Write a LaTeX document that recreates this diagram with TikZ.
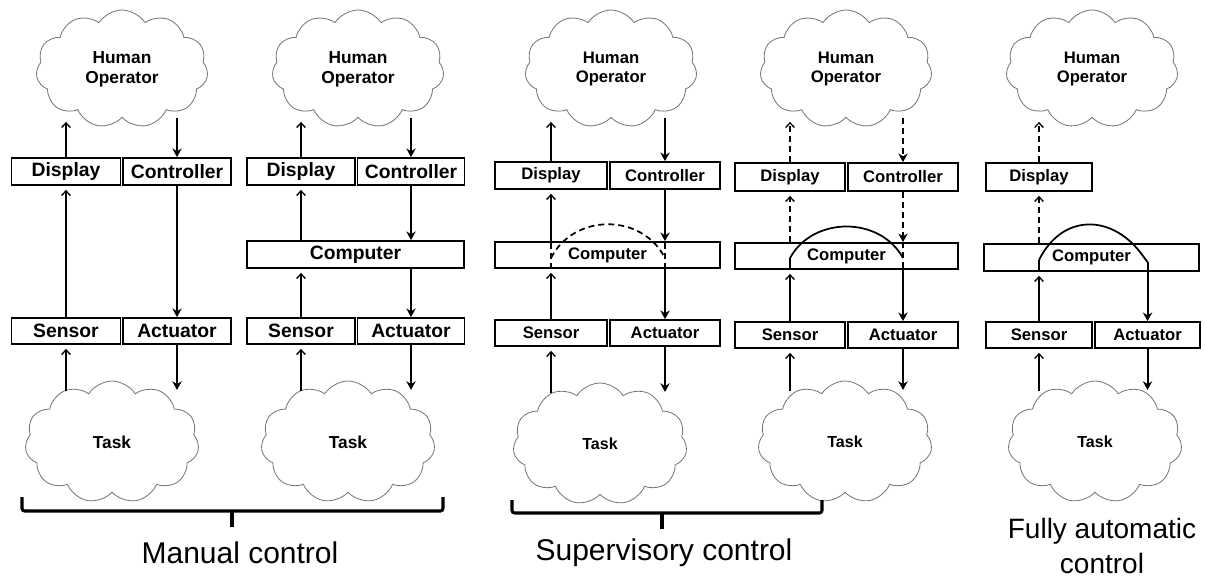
\documentclass[tikz,border=0pt]{standalone}
\usepackage{fontspec}
\setmainfont{Liberation Sans}
\usetikzlibrary{shapes.symbols,arrows.meta}

\begin{document}
\begin{tikzpicture}[x=0.75pt,y=-0.75pt,
  bw/.style={minimum width=#1*0.75pt},
  bh/.style={minimum height=#1*0.75pt},
  box/.style={draw, line width=1.3pt, inner sep=0pt, bh=27,
    font=\bfseries\fontsize{14.5}{16}\selectfont},
  sbox/.style={box, font=\bfseries\fontsize{12.5}{14}\selectfont},
  hcloud/.style={cloud, cloud puffs=11, cloud puff arc=115, aspect=1.5,
    draw=black!55, line width=0.6pt, inner sep=0pt, align=center,
    minimum width=172*0.75pt, minimum height=118*0.75pt,
    font=\bfseries\fontsize{13}{15}\selectfont},
  shcloud/.style={hcloud, font=\bfseries\fontsize{12.5}{14.5}\selectfont},
  tcloud/.style={hcloud, minimum width=174*0.75pt, minimum height=122*0.75pt},
  stcloud/.style={tcloud, font=\bfseries\fontsize{12}{14}\selectfont},
  upar/.style={line width=1pt, -{Straight Barb[length=3.5pt,width=6.5pt,line width=1pt]}, shorten >=3pt},
  dnar/.style={line width=1.5pt, -{Stealth[length=6.5pt,width=7pt]}},
  fromtask/.style={upar, shorten <=-8pt},
  totask/.style={dnar, shorten >=-7pt},
  dsh/.style={dash pattern=on 4.5pt off 3pt},
  inner/.style={line width=1pt, dsh},
  brace/.style={line width=2.3pt, rounded corners=2pt},
  lbl/.style={font=\fontsize{22.5}{27}\selectfont, align=center, inner sep=0pt}
]
\fill[white] (0,0) rectangle (1205,579);
\useasboundingbox (0,0) rectangle (1205,579);

% ---------- Manual control, direct ----------
\node[hcloud] (h1) at (122,69) {Human\\Operator};
\node[box,bw=109] (d1) at (66,171.5) {Display};
\node[box,bw=108] (c1) at (177,171.5) {Controller};
\node[box,bw=109,bh=26] (s1) at (66,331) {Sensor};
\node[box,bw=108,bh=26] (a1) at (177,331) {Actuator};
\node[tcloud] (t1) at (112,442) {Task};
\draw[upar] (d1.north) -- (d1.north |- h1.south);
\draw[dnar] (c1.north |- h1.south) -- (c1.north);
\draw[upar] (s1.north) -- (d1.south);
\draw[dnar] (c1.south) -- (a1.north);
\draw[fromtask] (s1.south |- t1.north) -- (s1.south);
\draw[totask] (a1.south) -- (a1.south |- t1.north);

% ---------- Manual control, through a computer ----------
\node[hcloud] (h2) at (358,69) {Human\\Operator};
\node[box,bw=108] (d2) at (301,171.5) {Display};
\node[box,bw=107] (c2) at (411,171.5) {Controller};
\node[box,bw=217,bh=27] (k2) at (355.5,254.5) {Computer};
\node[box,bw=108,bh=26] (s2) at (301,331) {Sensor};
\node[box,bw=107,bh=26] (a2) at (411,331) {Actuator};
\node[tcloud] (t2) at (348,442) {Task};
\draw[upar] (d2.north) -- (d2.north |- h2.south);
\draw[dnar] (c2.north |- h2.south) -- (c2.north);
\draw[upar] (d2.south |- k2.north) -- (d2.south);
\draw[dnar] (c2.south) -- (c2.south |- k2.north);
\draw[upar] (s2.north) -- (s2.north |- k2.south);
\draw[dnar] (a2.north |- k2.south) -- (a2.north);
\draw[fromtask] (s2.south |- t2.north) -- (s2.south);
\draw[totask] (a2.south) -- (a2.south |- t2.north);

% ---------- Supervisory control, operator in the loop ----------
\node[shcloud] (h3) at (611,69) {Human\\Operator};
\node[sbox,bw=112] (d3) at (551,175.5) {Display};
\node[sbox,bw=110] (c3) at (665,175.5) {Controller};
\node[sbox,bw=225,bh=26] (k3) at (607.5,255) {Computer};
\node[sbox,bw=112,bh=26] (s3) at (551,333) {Sensor};
\node[sbox,bw=110,bh=26] (a3) at (665,333) {Actuator};
\node[stcloud] (t3) at (600,444) {Task};
\coordinate (l3) at (551,258);
\coordinate (r3) at (665,258);
\draw[upar] (d3.north) -- (d3.north |- h3.south);
\draw[dnar] (c3.north |- h3.south) -- (c3.north);
\draw[upar] (d3.south |- k3.north) -- (d3.south);
\draw[dnar] (c3.south) -- (c3.south |- k3.north);
\draw[upar] (s3.north) -- (s3.north |- k3.south);
\draw[dnar] (a3.north |- k3.south) -- (a3.north);
\draw[inner] (s3.north |- k3.south) -- (s3.north |- k3.north);
\draw[inner] (a3.north |- k3.south) -- (a3.north |- k3.north);
\draw[line width=1.3pt, dsh] (l3) .. controls (574,213) and (642,213) .. (r3);
\draw[fromtask] (s3.south |- t3.north) -- (s3.south);
\draw[totask] (a3.south) -- (a3.south |- t3.north);

% ---------- Supervisory control, computer closes the loop ----------
\node[shcloud] (h4) at (846,69) {Human\\Operator};
\node[sbox,bw=110,bh=28] (d4) at (790,177) {Display};
\node[sbox,bw=110,bh=28] (c4) at (903,177) {Controller};
\node[sbox,bw=223,bh=26] (k4) at (846.5,256) {Computer};
\node[sbox,bw=110,bh=26] (s4) at (790,335) {Sensor};
\node[sbox,bw=110,bh=26] (a4) at (903,335) {Actuator};
\node[stcloud] (t4) at (845,442) {Task};
\coordinate (l4) at (790,258);
\coordinate (r4) at (903,258);
\draw[upar, dsh] (d4.north) -- (d4.north |- h4.south);
\draw[dnar, dsh] (c4.north |- h4.south) -- (c4.north);
\draw[upar, dsh] (d4.south |- k4.north) -- (d4.south);
\draw[dnar, dsh] (c4.south) -- (c4.south |- k4.north);
\draw[upar] (s4.north) -- (s4.north |- k4.south);
\draw[line width=1pt] (s4.north |- k4.south) -- (l4);
\draw[inner] (a4.north |- k4.north) -- (a4.north |- k4.south);
\draw[dnar] (a4.north |- k4.south) -- (a4.north);
\draw[line width=1.3pt] (l4) .. controls (813,216) and (880,216) .. (r4);
\draw[fromtask] (s4.south |- t4.north) -- (s4.south);
\draw[totask] (a4.south) -- (a4.south |- t4.north);

% ---------- Fully automatic control ----------
\node[shcloud] (h5) at (1092,69) {Human\\Operator};
\node[sbox,bw=106,bh=28] (d5) at (1039,177) {Display};
\node[sbox,bw=215,bh=27] (k5) at (1091.5,257.5) {Computer};
\node[sbox,bw=106,bh=26] (s5) at (1039,335) {Sensor};
\node[sbox,bw=105,bh=26] (a5) at (1147.5,335) {Actuator};
\node[stcloud] (t5) at (1095,442) {Task};
\coordinate (l5) at (1039,260);
\coordinate (r5) at (1147.5,262);
\draw[upar, dsh] (d5.north) -- (d5.north |- h5.south);
\draw[upar, dsh] (d5.south |- k5.north) -- (d5.south);
\draw[upar] (s5.north) -- (s5.north |- k5.south);
\draw[line width=1pt] (s5.north |- k5.south) -- (l5);
\draw[line width=1.3pt] (l5) .. controls (1062,214) and (1110,214) .. (1140,252) -- (r5);
\draw[dnar] (r5) -- (a5.north);
\draw[fromtask] (s5.south |- t5.north) -- (s5.south);
\draw[totask] (a5.south) -- (a5.south |- t5.north);

% ---------- Group brackets and captions ----------
\draw[brace] (22,497) |- (443,511) -- (443,497);
\draw[brace] (232,511) -- (232,527);
\draw[brace] (512,500) |- (822,513) -- (822,500);
\draw[brace] (662,513) -- (662,529);
\node[lbl] (cap1) at (240,553) {Manual control};
\node[lbl] (cap2) at (664,553) {Supervisory control};
\node[lbl, font=\fontsize{21}{26}\selectfont] (cap3) at (1102,546) {Fully automatic\\control};
\end{tikzpicture}
\end{document}
